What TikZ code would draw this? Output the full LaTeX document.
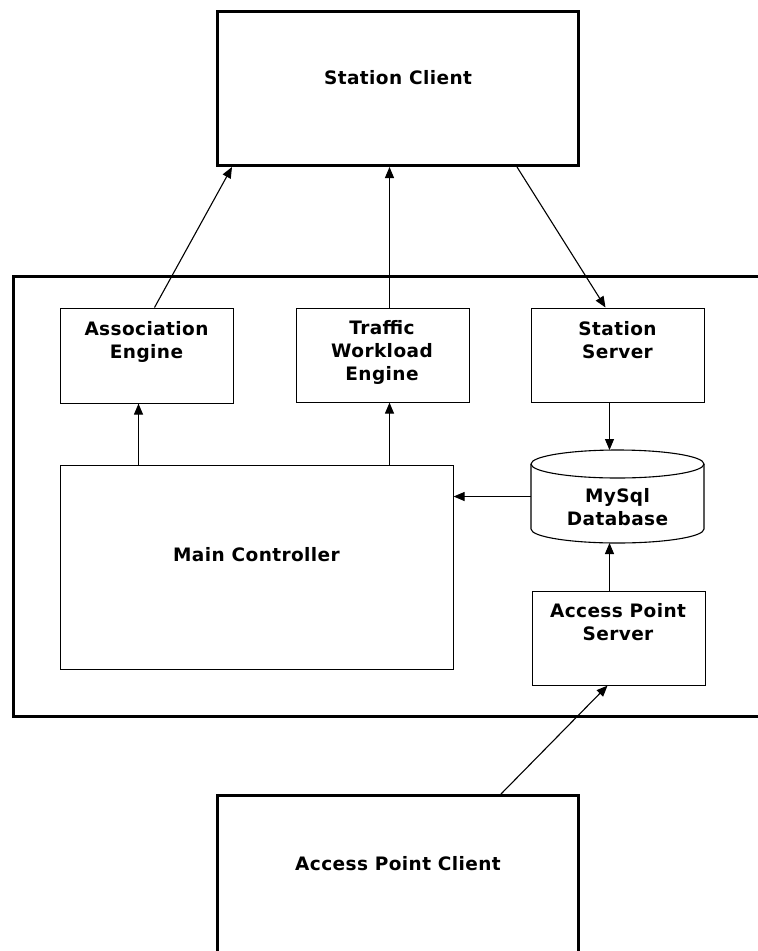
\documentclass[tikz,border=0pt]{standalone}
\usepackage{fontspec}
\setmainfont[LetterSpace=2.2]{DejaVu Sans}
\usetikzlibrary{arrows.meta}
\begin{document}
\begin{tikzpicture}[x=1pt,y=-1pt,
  box/.style={draw, line width=1.1pt, anchor=north west, inner sep=0pt},
  bigbox/.style={draw, line width=3pt, anchor=north west, inner sep=0pt},
  lbl/.style={font=\fontsize{18.5}{23}\selectfont\bfseries, anchor=base, inner sep=0pt},
  arr/.style={line width=1.1pt, -{Triangle[length=11pt,width=9pt]}}]
\useasboundingbox (0,0) rectangle (758,951);
\clip (0,0) rectangle (758,951);
% outer frame and big boxes
\node[bigbox, minimum width=800pt, minimum height=440pt] (outer) at (11.5,275) {};
\node[bigbox, minimum width=361pt, minimum height=154.5pt] (sc) at (216,9.5) {};
\node[bigbox, minimum width=361pt, minimum height=250pt] (apc) at (216,794) {};
% inner boxes
\node[box, minimum width=173pt, minimum height=95pt] (ae) at (59.5,307.5) {};
\node[box, minimum width=173pt, minimum height=94pt] (tw) at (295.5,307.5) {};
\node[box, minimum width=173pt, minimum height=94pt] (ss) at (530.5,307.5) {};
\node[box, minimum width=393pt, minimum height=204pt] (mc) at (59.5,464.5) {};
\node[box, minimum width=173pt, minimum height=94pt] (aps) at (531.5,590.5) {};
% database cylinder
\node[anchor=north west, inner sep=0pt, outer sep=0pt, minimum width=173pt, minimum height=93pt] (db) at (531,450) {};
\draw[line width=1.1pt] (617.5,464) ellipse [x radius=86.5pt, y radius=14pt];
\draw[line width=1.1pt] (531,464) -- (531,529) arc[start angle=180, end angle=360, x radius=86.5pt, y radius=14pt] -- (704,464);
% labels
\node[lbl] (tsc) at (398,84) {Station Client};
\node[lbl] (tae) at (146.5,335) {\begin{tabular}[t]{@{}c@{}}Association\\Engine\end{tabular}};
\node[lbl] (ttw) at (382,334) {\begin{tabular}[t]{@{}c@{}}Traffic\\Workload\\Engine\end{tabular}};
\node[lbl] (tss) at (617.5,335) {\begin{tabular}[t]{@{}c@{}}Station\\Server\end{tabular}};
\node[lbl] (tmc) at (256.5,561) {Main Controller};
\node[lbl] (tdb) at (617.5,502) {\begin{tabular}[t]{@{}c@{}}MySql\\Database\end{tabular}};
\node[lbl] (taps) at (618,617) {\begin{tabular}[t]{@{}c@{}}Access Point\\Server\end{tabular}};
\node[lbl] (tapc) at (398,870) {Access Point Client};
% connectors
\draw[arr] ([xshift=95pt]ae.north west) -- ([xshift=16pt]sc.south west);
\draw[arr] ([xshift=94pt]tw.north west) -- ([xshift=94pt]tw.north west |- sc.south);
\draw[arr] ([xshift=301pt]sc.south west) -- ([xshift=75pt]ss.north west);
\draw[arr] ([xshift=79pt]mc.north west) -- ([xshift=79pt]mc.north west |- ae.south);
\draw[arr] ([xshift=330pt]mc.north west) -- ([xshift=330pt]mc.north west |- tw.south);
\draw[arr] ([xshift=79pt]ss.south west) -- ([xshift=79pt]ss.south west |- db.north);
\draw[arr] ([xshift=78pt]aps.north west) -- ([xshift=78pt]aps.north west |- db.south);
\draw[arr] (db.west) -- (db.west -| mc.east);
\draw[arr] ([xshift=285pt]apc.north west) -- ([xshift=76pt]aps.south west);
\end{tikzpicture}
\end{document}
